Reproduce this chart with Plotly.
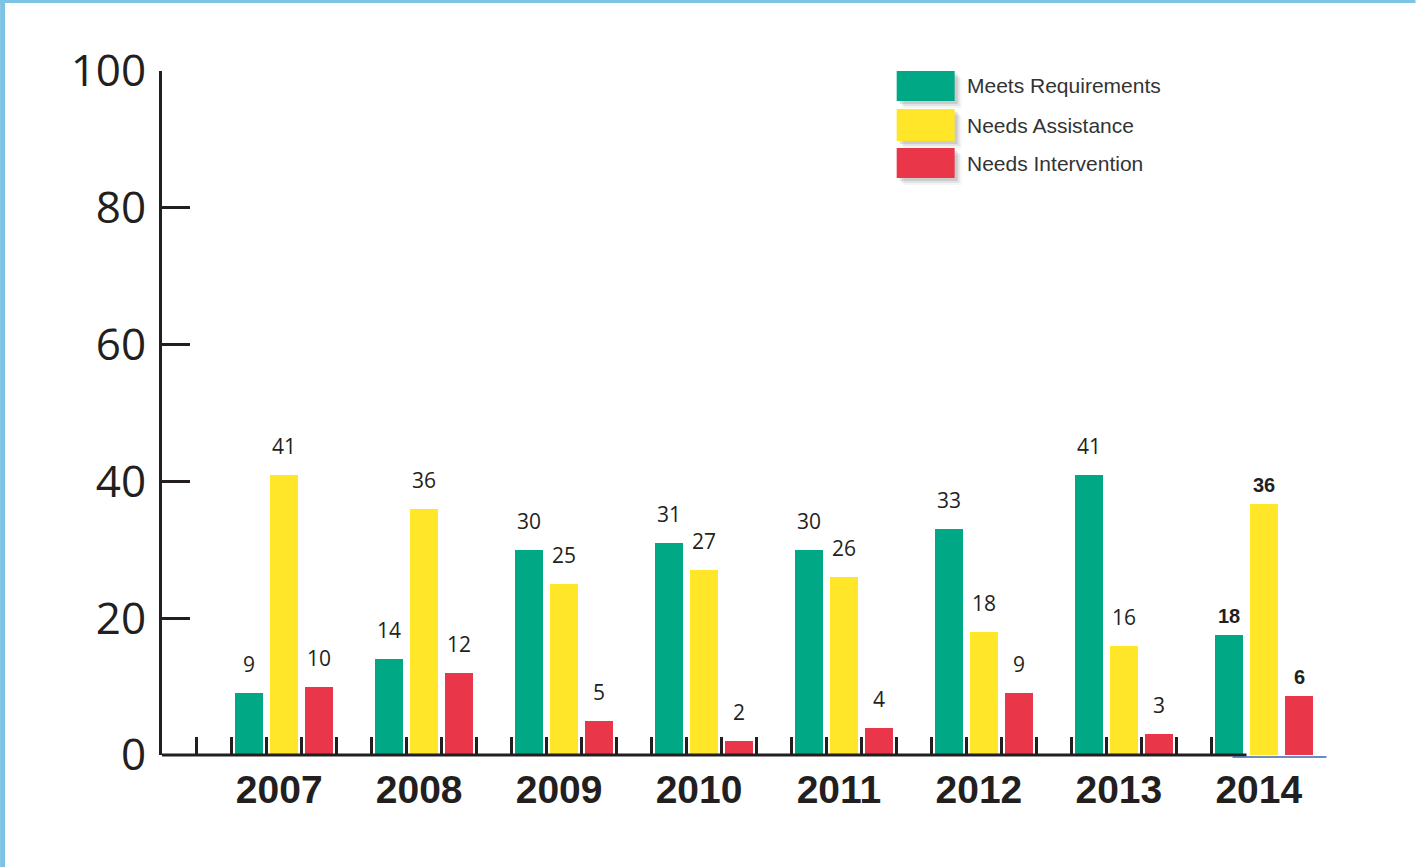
import plotly.graph_objects as go

# ---- data ----
years = ["2007", "2008", "2009", "2010", "2011", "2012", "2013", "2014"]
meets = [9, 14, 30, 31, 30, 33, 41, 17.5]
assist = [41, 36, 25, 27, 26, 18, 16, 36.7]
interv = [10, 12, 5, 2, 4, 9, 3, 8.6]
meets_lbl = ["9", "14", "30", "31", "30", "33", "41", "18"]
assist_lbl = ["41", "36", "25", "27", "26", "18", "16", "36"]
interv_lbl = ["10", "12", "5", "2", "4", "9", "3", "6"]
series_names = ["Meets Requirements", "Needs Assistance", "Needs Intervention"]
y_ticks = [0, 20, 40, 60, 80, 100]

# ---- styles ----
colors = ["#00a886", "#ffe628", "#e93649"]
ink = "#231f20"
W, H = 1416, 867
L, T, R_PX, B_PX = 162, 71, 1327.5, 755
XMAX = 33.3

def px_x(px):
    return (px - L) / (R_PX - L)

def px_y(py):
    return (B_PX - py) / (B_PX - T)

n = len(years)
slot = 4
centers = [3.5 + slot * i for i in range(n)]
offsets = [-1, 0, 1]
values = [meets, assist, interv]
labels = [meets_lbl, assist_lbl, interv_lbl]

fig = go.Figure()
for k in range(3):
    xs = [c + offsets[k] for c in centers]
    fig.add_trace(go.Bar(
        x=xs, y=values[k], width=0.8, name=series_names[k],
        marker=dict(color=colors[k], line=dict(width=0)),
        showlegend=False, hoverinfo="skip",
    ))
    for i in range(n):
        last = (i == n - 1)
        fig.add_annotation(
            x=xs[i], y=values[k][i], xref="x", yref="y",
            text=(f"<b>{labels[k][i]}</b>" if last else labels[k][i]),
            showarrow=False, yanchor="bottom", xanchor="center",
            yshift=(6 if last else 13),
            font=dict(family=("Liberation Sans" if last else "Open Sans"),
                      size=(20 if last else 21), color=ink),
        )

minor_ticks = list(range(1, 31))

fig.update_layout(
    width=W, height=H,
    margin=dict(l=L, r=W - R_PX, t=T, b=H - B_PX, pad=0),
    paper_bgcolor="white", plot_bgcolor="white",
    bargap=0, barmode="overlay",
    showlegend=False,
    xaxis=dict(
        range=[0, XMAX], showgrid=False, zeroline=False, showline=False,
        tickmode="array", tickvals=[c - 0.15 for c in centers], ticktext=years, ticks="",
        tickfont=dict(family="Liberation Sans", size=39, color=ink, weight="bold"),
        ticklabelstandoff=8,
        minor=dict(tickmode="array", tickvals=minor_ticks, ticks="inside",
                   ticklen=18, tickwidth=3, tickcolor=ink, showgrid=False),
    ),
    yaxis=dict(
        range=[0, 100], showgrid=False, zeroline=False,
        showline=True, linewidth=3, linecolor=ink,
        tickmode="array", tickvals=y_ticks, ticks="inside",
        ticklen=28, tickwidth=3, tickcolor=ink,
        tickfont=dict(family="Open Sans", size=44, color=ink),
        ticklabelstandoff=4,
    ),
)

shapes = []
# x axis base line (black) and the thin blue underline at the right end
shapes.append(dict(type="line", xref="x", yref="paper", x0=0, x1=31.0, y0=0, y1=0,
                   line=dict(color=ink, width=3), layer="above"))
shapes.append(dict(type="line", xref="paper", yref="paper",
                   x0=px_x(1233), x1=px_x(1327), y0=px_y(757), y1=px_y(757),
                   line=dict(color="#3a66a8", width=1.5), layer="above"))

# light-blue frame on the left and top
frame = "#7cc3e6"
shapes.append(dict(type="rect", xref="paper", yref="paper",
                   x0=px_x(0), x1=px_x(5), y0=px_y(H), y1=px_y(0),
                   fillcolor=frame, line=dict(width=0), layer="above"))
shapes.append(dict(type="rect", xref="paper", yref="paper",
                   x0=px_x(0), x1=px_x(W), y0=px_y(3), y1=px_y(0),
                   fillcolor=frame, line=dict(width=0), layer="above"))

# manual legend with large swatches and soft shadow
leg_rows = [(71, 101), (109, 141), (148, 178)]
for k, (ya, yb) in enumerate(leg_rows):
    for d, a in [(7, 0.04), (5, 0.07), (3, 0.10)]:
        shapes.append(dict(type="rect", xref="paper", yref="paper",
                           x0=px_x(897 + d), x1=px_x(955 + d),
                           y0=px_y(yb + d), y1=px_y(ya + d),
                           fillcolor=f"rgba(0,0,0,{a})", line=dict(width=0), layer="above"))
    shapes.append(dict(type="rect", xref="paper", yref="paper",
                       x0=px_x(897), x1=px_x(955), y0=px_y(yb), y1=px_y(ya),
                       fillcolor=colors[k], line=dict(width=0), layer="above"))
    fig.add_annotation(x=px_x(965), y=px_y((ya + yb) / 2), xref="paper", yref="paper",
                       text=series_names[k], showarrow=False, xanchor="left", yanchor="middle",
                       font=dict(family="Liberation Sans", size=21, color="#333333"))

fig.update_layout(shapes=shapes)
fig.write_html("out.html", config={"displayModeBar": False},
               post_script="document.body.style.margin='0px';")
